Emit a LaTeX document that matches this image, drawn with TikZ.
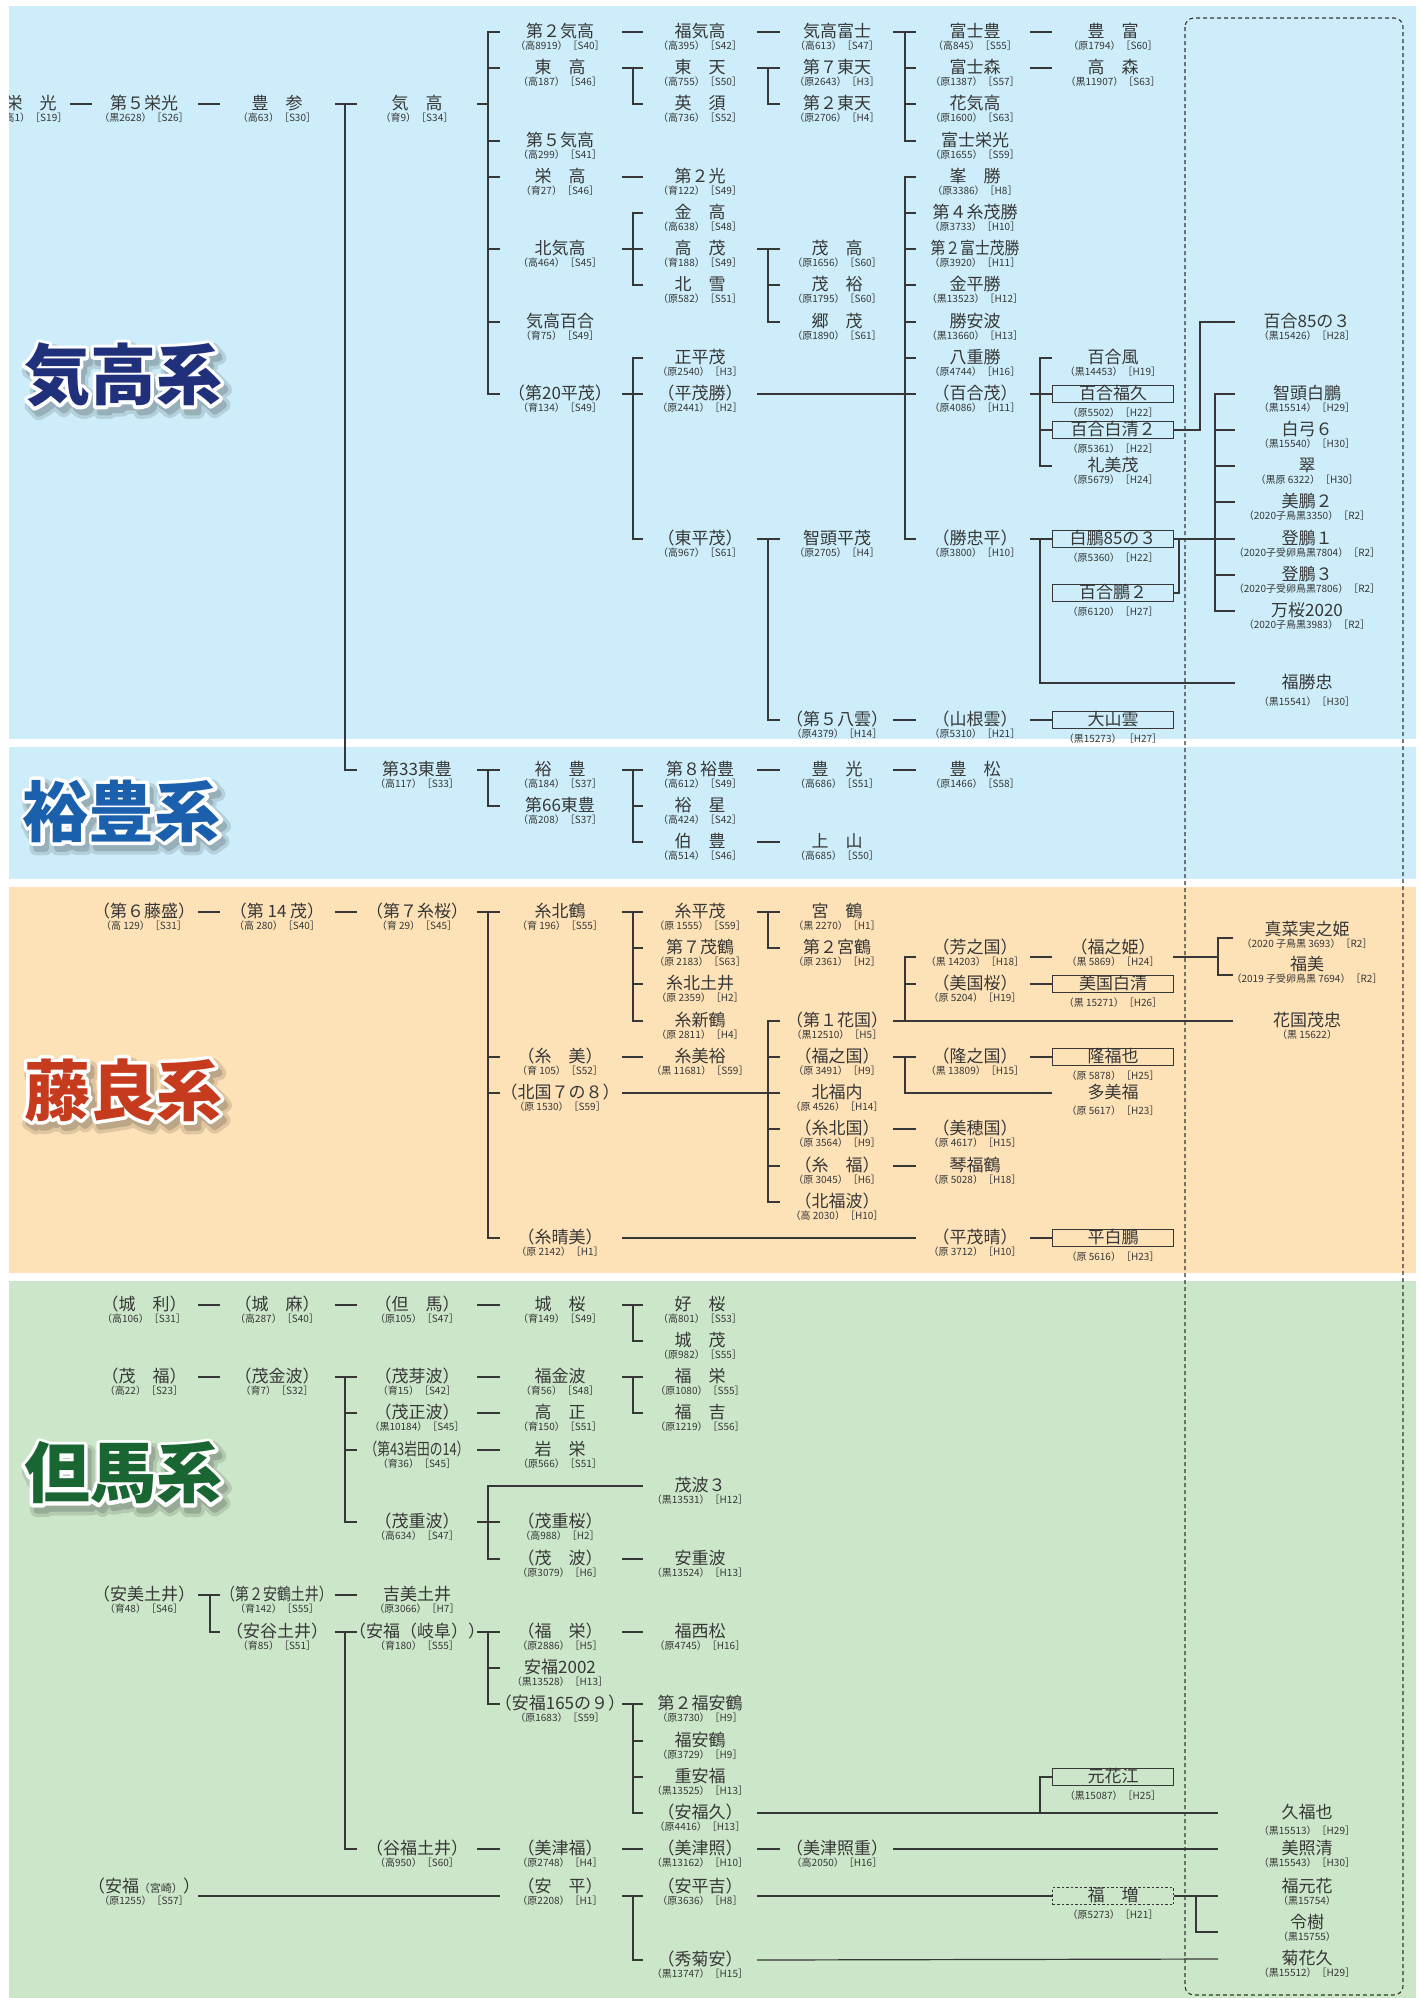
\documentclass[tikz,border=0pt]{standalone}
\usepackage{fontspec}
\setmainfont{Noto Sans CJK JP}
\usepackage{graphicx}

\definecolor{kisky}{RGB}{204,237,249}
\definecolor{fujiora}{RGB}{253,225,183}
\definecolor{tajigre}{RGB}{203,230,201}
\definecolor{inkg}{RGB}{55,55,55}
\definecolor{kinavy}{RGB}{32,48,122}
\definecolor{yublue}{RGB}{26,96,172}
\definecolor{fured}{RGB}{198,58,30}
\definecolor{tagreen}{RGB}{26,102,50}

\tikzset{
  nm/.style={inner sep=0pt, text=inkg, font=\fontsize{17}{17}\selectfont, text height=13.6pt, text depth=1.7pt},
  sb/.style={inner sep=0pt, text=inkg, font=\fontsize{10}{10}\selectfont, text height=8pt, text depth=1.5pt},
  bx/.style={nm, draw=inkg, line width=1.1pt, minimum width=121pt, minimum height=17pt},
  bxd/.style={bx, dash pattern=on 2.5pt off 2pt},
  ln/.style={inkg, line width=1.2pt},
  lbl/.style={inner sep=0pt, font=\fontsize{66}{66}\selectfont\bfseries},
}

\newcommand\bull[6][14]{\node[nm] (#2) at (#3,#4) {#5};
  \node[sb] (#2s) at ([yshift=-#1pt]#2) {#6};}
\newcommand\boxbull[5]{\node[bx] (#1) at (#2,#3) {#4};
  \node[sb] (#1s) at ([yshift=-19pt]#1) {#5};}
\newcommand\lone[3]{\draw[ln] (#2 -| L#1) -- (#3 -| R#1);}
\newcommand\stub[2]{\draw[ln] (#2 -| L#1) -- (#2 -| V#1);}
\newcommand\fan[4]{\draw[ln] (#2 -| R#1) -- (#2 -| V#1) -- (#3 -| V#1) -- (#3 -| R#1);
  \foreach \k in {#4} {\draw[ln] (\k -| V#1) -- (\k -| R#1);}}
\newcommand\strk[2]{\special{pdf:literal direct 2 Tr #1 w 1 j}#2\special{pdf:literal direct 0 Tr}}
\newcommand\sysname[6]{\coordinate (#1) at (#2,#3);
  \node[lbl,text=#5!88!black] (#1d) at ([shift={(4pt,-6pt)}]#1) {\strk{14}{#6}};
  \node[lbl,text=#5!74!black] (#1e) at ([shift={(4pt,-6pt)}]#1) {\strk{7}{#6}};
  \node[lbl,text=white] (#1w) at (#1) {\strk{7}{#6}};
  \node[lbl,text=#4] (#1t) at (#1) {#6};}

\begin{document}
\begin{tikzpicture}[x=1pt,y=-1pt]

\useasboundingbox (0,0) rectangle (1421,1998);

\fill[kisky] (9,6) rectangle (1416,739);
\fill[kisky] (9,747) rectangle (1416,879);
\fill[fujiora] (9,887) rectangle (1416,1273);
\fill[tajigre] (9,1281) rectangle (1416,1998);

\coordinate (L01) at (70,0);   \coordinate (R01) at (92,0);
\coordinate (L12) at (198,0);  \coordinate (V12) at (210,0);  \coordinate (R12) at (220,0);
\coordinate (L23) at (335,0);  \coordinate (V23) at (345,0);  \coordinate (R23) at (357,0);
\coordinate (L34) at (477,0);  \coordinate (V34) at (488,0);  \coordinate (R34) at (500,0);
\coordinate (L45) at (622,0);  \coordinate (V45) at (633,0);  \coordinate (R45) at (643,0);
\coordinate (L56) at (757,0);  \coordinate (V56) at (768,0);  \coordinate (R56) at (780,0);
\coordinate (L67) at (893,0);  \coordinate (V67) at (905,0);  \coordinate (R67) at (916,0);
\coordinate (L78) at (1030,0); \coordinate (V78) at (1040,0); \coordinate (R78) at (1052,0);
\coordinate (L89) at (1173,0); \coordinate (V89) at (1215,0); \coordinate (R89) at (1235,0);
\coordinate (J89) at (1179,0); \coordinate (W89) at (1200,0);
\coordinate (Vo) at (1218,0);  \coordinate (Ro) at (1233,0);
\coordinate (Vg) at (1196,0);  \coordinate (Rg) at (1218,0);
\coordinate (yoshiT) at (0,957); \coordinate (manaT) at (0,938); \coordinate (fukumiT) at (0,975);
\coordinate (yline) at (0,1896); \coordinate (reikiT) at (0,1932);

\draw[inkg, line width=1.1pt, dash pattern=on 4pt off 3pt, rounded corners=9pt] (1185,18) rectangle (1403,1995);

\sysname{kikou}{123}{375}{kinavy}{kisky}{気高系}
\sysname{yuhou}{122}{811}{yublue}{kisky}{裕豊系}
\sysname{fujiyoshi}{123}{1090}{fured}{fujiora}{藤良系}
\sysname{tajimakei}{123}{1473}{tagreen}{tajigre}{但馬系}

\bull{eiko}{31}{104}{栄　光}{（高1）［S19］}
\bull{daigoeiko}{144}{104}{第５栄光}{（黒2628）［S26］}
\bull{toyomi}{277}{104}{豊　参}{（高63）［S30］}
\bull{kitaka}{417}{104}{気　高}{（育9）［S34］}
\bull{touhou33}{417}{770}{第33東豊}{（高117）［S33］}
\bull{dai2kitaka}{560}{32}{第２気高}{（高8919）［S40］}
\bull{azumataka}{560}{68}{東　高}{（高187）［S46］}
\bull{dai5kitaka}{560}{141}{第５気高}{（高299）［S41］}
\bull{sakaetaka}{560}{177}{栄　高}{（育27）［S46］}
\bull{kitakitaka}{560}{249}{北気高}{（高464）［S45］}
\bull{kitakayuri}{560}{322}{気高百合}{（育75）［S49］}
\bull{dai20hirashige}{560}{394}{（第20平茂）}{（育134）［S49］}
\bull{fukukitaka}{700}{32}{福気高}{（高395）［S42］}
\bull{azumaten}{700}{68}{東　天}{（高755）［S50］}
\bull{eisu}{700}{104}{英　須}{（高736）［S52］}
\bull{dai2hikari}{700}{177}{第２光}{（育122）［S49］}
\bull{kintaka}{700}{213}{金　高}{（高638）［S48］}
\bull{takashige}{700}{249}{高　茂}{（育188）［S49］}
\bull{kitayuki}{700}{285}{北　雪}{（原582）［S51］}
\bull{masahira}{700}{358}{正平茂}{（原2540）［H3］}
\bull{hirashigekatsu}{700}{394}{（平茂勝）}{（原2441）［H2］}
\bull{azumahira}{700}{539}{（東平茂）}{（高967）［S61］}
\bull{kitakafuji}{837}{32}{気高富士}{（高613）［S47］}
\bull{dai7azuma}{837}{68}{第７東天}{（原2643）［H3］}
\bull{dai2azuma}{837}{104}{第２東天}{（原2706）［H4］}
\bull{shigetaka}{837}{249}{茂　高}{（原1656）［S60］}
\bull{shigehiro}{837}{285}{茂　裕}{（原1795）［S60］}
\bull{goshige}{837}{322}{郷　茂}{（原1890）［S61］}
\bull{chizuhira}{837}{539}{智頭平茂}{（原2705）［H4］}
\bull{dai5yakumo}{837}{720}{（第５八雲）}{（原4379）［H14］}
\bull{fujitoyo}{975}{32}{富士豊}{（高845）［S55］}
\bull{fujimori}{975}{68}{富士森}{（原1387）［S57］}
\bull{hanakitaka}{975}{104}{花気高}{（原1600）［S63］}
\bull{fujieiko}{975}{141}{富士栄光}{（原1655）［S59］}
\bull{minekatsu}{975}{177}{峯　勝}{（原3386）［H8］}
\bull{dai4ito}{975}{213}{第４糸茂勝}{（原3733）［H10］}
\bull{dai2fuji}{975}{249}{\scalebox{0.87}[1]{第２富士茂勝}}{（原3920）［H11］}
\bull{kanehira}{975}{285}{金平勝}{（黒13523）［H12］}
\bull{katsuyasu}{975}{322}{勝安波}{（黒13660）［H13］}
\bull{yaekatsu}{975}{358}{八重勝}{（原4744）［H16］}
\bull{yurishige}{975}{394}{（百合茂）}{（原4086）［H11］}
\bull{katsutada}{975}{539}{（勝忠平）}{（原3800）［H10］}
\bull{yamaneun}{975}{720}{（山根雲）}{（原5310）［H21］}
\bull{toyotomi}{1113}{32}{豊　富}{（原1794）［S60］}
\bull{takamori}{1113}{68}{高　森}{（黒11907）［S63］}
\bull{yurikaze}{1113}{358}{百合風}{（黒14453）［H19］}
\boxbull{yurifukuhisa}{1113}{394}{百合福久}{（原5502）［H22］}
\boxbull{yurishirakiyo}{1113}{430}{百合白清２}{（原5361）［H22］}
\bull{reimishige}{1113}{466}{礼美茂}{（原5679）［H24］}
\boxbull{hakuho853}{1113}{539}{白鵬85の３}{（原5360）［H22］}
\boxbull{yuriho2}{1113}{593}{百合鵬２}{（原6120）［H27］}
\boxbull{oyamakumo}{1113}{720}{大山雲}{（黒15273） ［H27］}
\bull{yuri853}{1307}{322}{百合85の３}{（黒15426）［H28］}
\bull{chizuhakuho}{1307}{394}{智頭白鵬}{（黒15514）［H29］}
\bull{shirayumi6}{1307}{430}{白弓６}{（黒15540）［H30］}
\bull{midori}{1307}{466}{翠}{（黒原 6322）［H30］}
\bull{biho2}{1307}{502}{美鵬２}{（2020子鳥黒3350）［R2］}
\bull{toho1}{1307}{539}{登鵬１}{（2020子受卵鳥黒7804）［R2］}
\bull{toho3}{1307}{575}{登鵬３}{（2020子受卵鳥黒7806）［R2］}
\bull{mansakura}{1307}{611}{万桜2020}{（2020子鳥黒3983）［R2］}
\bull[19]{fukukatsutada}{1307}{683}{福勝忠}{（黒15541）［H30］}

\bull{yutaka}{560}{770}{裕　豊}{（高184）［S37］}
\bull{touhou66}{560}{806}{第66東豊}{（高208）［S37］}
\bull{dai8yutaka}{700}{770}{第８裕豊}{（高612）［S49］}
\bull{yusei}{700}{806}{裕　星}{（高424）［S42］}
\bull{hakuyutaka}{700}{842}{伯　豊}{（高514）［S46］}
\bull{toyomitsu}{837}{770}{豊　光}{（高686）［S51］}
\bull{kamiyama}{837}{842}{上　山}{（高685）［S50］}
\bull{toyomatsu}{975}{770}{豊　松}{（原1466）［S58］}

\bull{dai6fujimori}{144}{912}{（第６藤盛）}{（高 129）［S31］}
\bull{dai14shige}{277}{912}{（第 14 茂）}{（高 280）［S40］}
\bull{dai7itozakura}{417}{912}{（第７糸桜）}{（育 29）［S45］}
\bull{itokitazuru}{560}{912}{糸北鶴}{（育 196）［S55］}
\bull{itomi}{560}{1057}{（糸　美）}{（育 105）［S52］}
\bull{hokkoku78}{560}{1093}{（北国７の８）}{（原 1530）［S59］}
\bull{itoharumi}{560}{1238}{（糸晴美）}{（原 2142）［H1］}
\bull{itohirashige}{700}{912}{糸平茂}{（原 1555）［S59］}
\bull{dai7shigezuru}{700}{948}{第７茂鶴}{（原 2183）［S63］}
\bull{itokitadoi}{700}{984}{糸北土井}{（原 2359）［H2］}
\bull{itoshinzuru}{700}{1021}{糸新鶴}{（原 2811）［H4］}
\bull{itomihiro}{700}{1057}{糸美裕}{（黒 11681）［S59］}
\bull{miyazuru}{837}{912}{宮　鶴}{（黒 2270）［H1］}
\bull{dai2miyazuru}{837}{948}{第２宮鶴}{（原 2361）［H2］}
\bull{dai1hanakuni}{837}{1021}{（第１花国）}{（黒12510）［H5］}
\bull{fukunokuni}{837}{1057}{（福之国）}{（原 3491）［H9］}
\bull{kitafukuuchi}{837}{1093}{北福内}{（原 4526）［H14］}
\bull{itokitakuni}{837}{1129}{（糸北国）}{（原 3564）［H9］}
\bull{itofuku}{837}{1166}{（糸　福）}{（原 3045）［H6］}
\bull{kitafukunami}{837}{1202}{（北福波）}{（高 2030）［H10］}
\bull{yoshinokuni}{975}{948}{（芳之国）}{（黒 14203）［H18］}
\bull{mikunizakura}{975}{984}{（美国桜）}{（原 5204）［H19］}
\bull{takanokuni}{975}{1057}{（隆之国）}{（黒 13809）［H15］}
\bull{mihokuni}{975}{1129}{（美穂国）}{（原 4617）［H15］}
\bull{kotofukuzuru}{975}{1166}{琴福鶴}{（原 5028）［H18］}
\bull{hirashigeharu}{975}{1238}{（平茂晴）}{（原 3712）［H10］}
\bull{fukunohime}{1113}{948}{（福之姫）}{（黒 5869）［H24］}
\boxbull{mikunishirakiyo}{1113}{984}{美国白清}{（黒 15271）［H26］}
\boxbull{ryufukuya}{1113}{1057}{隆福也}{（原 5878）［H25］}
\bull[18]{tamifuku}{1113}{1093}{多美福}{（原 5617）［H23］}
\boxbull{hirahakuho}{1113}{1238}{平白鵬}{（原 5616）［H23］}
\bull{manamihime}{1307}{930}{真菜実之姫}{（2020 子鳥黒 3693）［R2］}
\bull{fukumi}{1307}{965}{福美}{（2019 子受卵鳥黒 7694）［R2］}
\bull{hanakunishigetada}{1307}{1021}{花国茂忠}{（黒 15622）}

\bull{jori}{144}{1305}{（城　利）}{（高106）［S31］}
\bull{shigefuku}{144}{1377}{（茂　福）}{（高22）［S23］}
\bull{yasumidoi}{144}{1595}{（安美土井）}{（育48）［S46］}
\bull{yasufukumiya}{144}{1887}{（安福{\fontsize{11}{11}\selectfont（宮崎）}）}{（原1255）［S57］}
\bull{jouma}{277}{1305}{（城　麻）}{（高287）［S40］}
\bull{shigekanenami}{277}{1377}{（茂金波）}{（育7）［S32］}
\bull{dai2yasuzuru}{277}{1595}{\scalebox{0.82}[1]{（第２安鶴土井）}}{（育142）［S55］}
\bull{yasutanidoi}{277}{1632}{（安谷土井）}{（育85）［S51］}
\bull{tajima}{417}{1305}{（但　馬）}{（原105）［S47］}
\bull{shigemenami}{417}{1377}{（茂芽波）}{（育15）［S42］}
\bull{shigemasanami}{417}{1413}{（茂正波）}{（黒10184）［S45］}
\bull{dai43iwata}{417}{1450}{\scalebox{0.75}[1]{（第43岩田の14）}}{（育36）［S45］}
\bull{shigeshigenami}{417}{1522}{（茂重波）}{（高634）［S47］}
\bull{yoshimidoi}{417}{1595}{吉美土井}{（原3066）［H7］}
\bull{yasufukugifu}{417}{1632}{（安福（岐阜））}{（育180）［S55］}
\bull{tanifukudoi}{417}{1849}{（谷福土井）}{（高950）［S60］}
\bull{jozakura}{560}{1305}{城　桜}{（育149）［S49］}
\bull{fukukanenami}{560}{1377}{福金波}{（育56）［S48］}
\bull{takamasa}{560}{1413}{高　正}{（育150）［S51］}
\bull{iwasakae}{560}{1450}{岩　栄}{（原566）［S51］}
\bull{shigeshigezakura}{560}{1522}{（茂重桜）}{（高988）［H2］}
\bull{shigenami}{560}{1559}{（茂　波）}{（原3079）［H6］}
\bull{fukusakae}{560}{1632}{（福　栄）}{（原2886）［H5］}
\bull{yasufuku2002}{560}{1668}{安福2002}{（黒13528）［H13］}
\bull{yasufuku1659}{560}{1704}{（安福165の９）}{（原1683）［S59］}
\bull{mitsufuku}{560}{1849}{（美津福）}{（原2748）［H4］}
\bull{yasuhira}{560}{1887}{（安　平）}{（原2208）［H1］}
\bull{yoshizakura}{700}{1305}{好　桜}{（高801）［S53］}
\bull{joshige}{700}{1341}{城　茂}{（原982）［S55］}
\bull{fukusakae2}{700}{1377}{福　栄}{（原1080）［S55］}
\bull{fukuyoshi}{700}{1413}{福　吉}{（原1219）［S56］}
\bull{shigenami3}{700}{1486}{茂波３}{（黒13531）［H12］}
\bull{yasushigenami}{700}{1559}{安重波}{（黒13524）［H13］}
\bull{fukunishimatsu}{700}{1632}{福西松}{（原4745）［H16］}
\bull{dai2fukuyasuzuru}{700}{1704}{第２福安鶴}{（原3730）［H9］}
\bull{fukuyasuzuru}{700}{1741}{福安鶴}{（原3729）［H9］}
\bull{shigeyasufuku}{700}{1777}{重安福}{（黒13525）［H13］}
\bull{yasufukuhisa}{700}{1813}{（安福久）}{（原4416）［H13］}
\bull{mitsuteru}{700}{1849}{（美津照）}{（黒13162）［H10］}
\bull{yasuhirayoshi}{700}{1887}{（安平吉）}{（原3636）［H8］}
\bull{hidekikuyasu}{700}{1960}{（秀菊安）}{（黒13747）［H15］}
\bull{mitsuterushige}{837}{1849}{（美津照重）}{（高2050）［H16］}
\boxbull{motohanae}{1113}{1777}{元花江}{（黒15087）［H25］}
\node[bxd] (fukumasu) at (1113,1896) {福　増};
\node[sb] (fukumasus) at ([yshift=-19pt]fukumasu) {（原5273）［H21］};
\bull[18]{hisafukuya}{1307}{1813}{久福也}{（黒15513）［H29］}
\bull{miteruse}{1307}{1849}{美照清}{（黒15543）［H30］}
\bull{fukumotohana}{1307}{1887}{福元花}{（黒15754）}
\bull{reiki}{1307}{1923}{令樹}{（黒15755）}
\bull{kikuhanahisa}{1307}{1959}{菊花久}{（黒15512）［H29］}

\lone{01}{eiko}{daigoeiko}
\lone{12}{daigoeiko}{toyomi}
\stub{23}{toyomi}
\fan{23}{kitaka}{touhou33}{kitaka}
\stub{34}{kitaka}
\fan{34}{dai2kitaka}{dai20hirashige}{azumataka,dai5kitaka,sakaetaka,kitakitaka,kitakayuri}
\lone{45}{dai2kitaka}{fukukitaka}
\stub{45}{azumataka}
\fan{45}{azumaten}{eisu}{azumaten}
\lone{45}{sakaetaka}{dai2hikari}
\stub{45}{kitakitaka}
\fan{45}{kintaka}{kitayuki}{takashige}
\stub{45}{dai20hirashige}
\fan{45}{masahira}{azumahira}{hirashigekatsu}
\lone{56}{fukukitaka}{kitakafuji}
\stub{56}{azumaten}
\fan{56}{dai7azuma}{dai2azuma}{dai7azuma}
\stub{56}{takashige}
\fan{56}{shigetaka}{goshige}{shigehiro}
\stub{56}{azumahira}
\fan{56}{chizuhira}{dai5yakumo}{chizuhira}
\draw[ln] (hirashigekatsu -| L56) -- (yurishige -| R67);
\fan{67}{minekatsu}{katsutada}{dai4ito,dai2fuji,kanehira,katsuyasu,yaekatsu,yurishige}
\stub{67}{kitakafuji}
\fan{67}{fujitoyo}{fujieiko}{fujimori,hanakitaka}
\lone{67}{dai5yakumo}{yamaneun}
\lone{78}{fujitoyo}{toyotomi}
\lone{78}{fujimori}{takamori}
\stub{78}{yurishige}
\fan{78}{yurikaze}{reimishige}{yurifukuhisa,yurishirakiyo}
\stub{78}{katsutada}
\draw[ln] (hakuho853 -| R78) -- (hakuho853 -| V78) -- (fukukatsutada -| V78) -- (fukukatsutada -| R89);
\lone{78}{yamaneun}{oyamakumo}
\draw[ln] (yurishirakiyo.east) -- (yurishirakiyo -| W89) -- (yuri853 -| W89) -- (yuri853 -| R89);
\draw[ln] (yuriho2.east) -- (yuriho2 -| J89) -- (hakuho853 -| J89);
\draw[ln] (hakuho853.east) -- (hakuho853 -| V89);
\fan{89}{chizuhakuho}{mansakura}{shirayumi6,midori,biho2,toho1,toho3}

\stub{34}{touhou33}
\fan{34}{yutaka}{touhou66}{yutaka}
\stub{45}{yutaka}
\fan{45}{dai8yutaka}{hakuyutaka}{yusei}
\lone{56}{dai8yutaka}{toyomitsu}
\lone{56}{hakuyutaka}{kamiyama}
\lone{67}{toyomitsu}{toyomatsu}

\lone{12}{dai6fujimori}{dai14shige}
\lone{23}{dai14shige}{dai7itozakura}
\stub{34}{dai7itozakura}
\fan{34}{itokitazuru}{itoharumi}{itomi,hokkoku78}
\stub{45}{itokitazuru}
\fan{45}{itohirashige}{itoshinzuru}{dai7shigezuru,itokitadoi}
\lone{45}{itomi}{itomihiro}
\draw[ln] (hokkoku78 -| L45) -- (kitafukuuchi -| R56);
\fan{56}{dai1hanakuni}{kitafukunami}{fukunokuni,itokitakuni,itofuku}
\draw[ln] (itoharumi -| L45) -- (hirashigeharu -| R67);
\stub{56}{itohirashige}
\fan{56}{miyazuru}{dai2miyazuru}{miyazuru}
\draw[ln] (dai1hanakuni -| L67) -- (hanakunishigetada -| Ro);
\draw[ln] (yoshiT -| R67) -- (yoshiT -| V67) -- (dai1hanakuni -| V67);
\draw[ln] (mikunizakura -| V67) -- (mikunizakura -| R67);
\stub{67}{fukunokuni}
\draw[ln] (takanokuni -| R67) -- (takanokuni -| V67) -- (tamifuku -| V67) -- (tamifuku -| R78);
\lone{67}{itokitakuni}{mihokuni}
\lone{67}{itofuku}{kotofukuzuru}
\draw[ln] (yoshiT -| L78) -- (yoshiT -| R78);
\lone{78}{mikunizakura}{mikunishirakiyo}
\lone{78}{takanokuni}{ryufukuya}
\lone{78}{hirashigeharu}{hirahakuho}
\draw[ln] (yoshiT -| L89) -- (yoshiT -| Vo);
\draw[ln] (manaT -| Ro) -- (manaT -| Vo) -- (fukumiT -| Vo) -- (fukumiT -| Ro);

\lone{12}{jori}{jouma}
\lone{23}{jouma}{tajima}
\lone{34}{tajima}{jozakura}
\stub{45}{jozakura}
\fan{45}{yoshizakura}{joshige}{yoshizakura}
\lone{12}{shigefuku}{shigekanenami}
\stub{23}{shigekanenami}
\fan{23}{shigemenami}{shigeshigenami}{shigemasanami,dai43iwata}
\lone{34}{shigemenami}{fukukanenami}
\lone{34}{shigemasanami}{takamasa}
\lone{34}{dai43iwata}{iwasakae}
\stub{45}{fukukanenami}
\fan{45}{fukusakae2}{fukuyoshi}{fukusakae2}
\stub{34}{shigeshigenami}
\draw[ln] (shigenami3 -| R45) -- (shigenami3 -| V34) -- (shigenami -| V34) -- (shigenami -| R34);
\draw[ln] (shigeshigezakura -| V34) -- (shigeshigezakura -| R34);
\lone{45}{shigenami}{yasushigenami}
\stub{12}{yasumidoi}
\fan{12}{dai2yasuzuru}{yasutanidoi}{dai2yasuzuru}
\lone{23}{dai2yasuzuru}{yoshimidoi}
\stub{23}{yasutanidoi}
\fan{23}{yasufukugifu}{tanifukudoi}{yasufukugifu}
\stub{34}{yasufukugifu}
\fan{34}{fukusakae}{yasufuku1659}{yasufuku2002}
\lone{45}{fukusakae}{fukunishimatsu}
\stub{45}{yasufuku1659}
\fan{45}{dai2fukuyasuzuru}{yasufukuhisa}{fukuyasuzuru,shigeyasufuku}
\lone{34}{tanifukudoi}{mitsufuku}
\lone{45}{mitsufuku}{mitsuteru}
\lone{56}{mitsuteru}{mitsuterushige}
\draw[ln] (yline -| L12) -- (yline -| R34);
\draw[ln] (yline -| L45) -- (yline -| V45);
\draw[ln] (yline -| R45) -- (yline -| V45) -- (hidekikuyasu -| V45) -- (hidekikuyasu -| R45);
\draw[ln] (yasufukuhisa -| L56) -- (hisafukuya -| Rg);
\draw[ln] (yasufukuhisa -| V78) -- (motohanae -| V78) -- (motohanae.west);
\draw[ln] (mitsuterushige -| L67) -- (miteruse -| Rg);
\draw[ln] (yline -| L56) -- (fukumasu.west);
\draw[ln] (fukumasu.east) -- (yline -| Rg);
\draw[ln] (yline -| Vg) -- (reikiT -| Vg) -- (reikiT -| Rg);
\draw[ln] (hidekikuyasu -| L56) -- (kikuhanahisa -| Rg);

\fill[white] (0,0) rectangle (9,1998);

\end{tikzpicture}
\end{document}
